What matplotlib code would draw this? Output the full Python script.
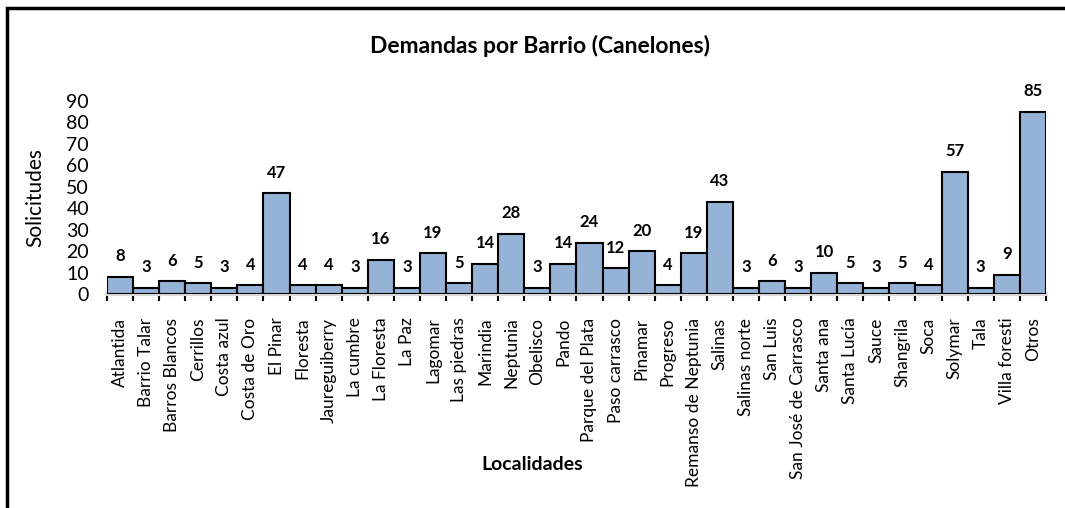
import matplotlib.pyplot as plt
import numpy as np
from matplotlib.patches import Rectangle

plt.rcParams['font.family'] = ['Lato', 'DejaVu Sans']

# data
localidades = ['Atlantida', 'Barrio Talar', 'Barros Blancos', 'Cerrillos', 'Costa azul',
               'Costa de Oro', 'El Pinar', 'Floresta', 'Jaureguiberry', 'La cumbre',
               'La Floresta', 'La Paz', 'Lagomar', 'Las piedras', 'Marindia', 'Neptunia',
               'Obelisco', 'Pando', 'Parque del Plata', 'Paso carrasco', 'Pinamar',
               'Progreso', 'Remanso de Neptunia', 'Salinas', 'Salinas norte', 'San Luis',
               'San José de Carrasco', 'Santa ana', 'Santa Lucía', 'Sauce', 'Shangrila',
               'Soca', 'Solymar', 'Tala', 'Villa foresti', 'Otros']
solicitudes = [8, 3, 6, 5, 3, 4, 47, 4, 4, 3, 16, 3, 19, 5, 14, 28, 3, 14, 24, 12, 20,
               4, 19, 43, 3, 6, 3, 10, 5, 3, 5, 4, 57, 3, 9, 85]
yticks = list(range(0, 100, 10))

fig = plt.figure(figsize=(10.65, 5.08), dpi=100)
ax = fig.add_axes([0.1005, 0.4213, 0.8815, 0.38])

x = np.arange(len(localidades))
ax.bar(x, solicitudes, width=1.0, color='#95B3D7', edgecolor='black', linewidth=1.5, zorder=3)

for xi, v in zip(x, solicitudes):
    ax.annotate(str(v), (xi, v), xytext=(0, 9), textcoords='offset points',
                ha='center', va='bottom', fontsize=12, fontweight='bold')

ax.set_xlim(-0.5, len(localidades) - 0.5)
ax.set_ylim(0, 90)
ax.set_yticks(yticks)
ax.tick_params(axis='y', length=0, labelsize=14, pad=13)
ax.set_xticks(x)
ax.set_xticklabels(localidades, rotation=90, fontsize=12.5)
ax.tick_params(axis='x', which='major', length=0, pad=17)
ax.set_xticks(np.arange(-0.5, len(localidades), 1), minor=True)
ax.tick_params(axis='x', which='minor', length=5, width=1.5, color='black')

for s in ['top', 'right', 'left']:
    ax.spines[s].set_visible(False)
ax.spines['bottom'].set_color('#D9D9D9')
ax.spines['bottom'].set_linewidth(3)
ax.spines['bottom'].set_zorder(2)

ax.set_ylabel('Solicitudes', fontsize=15)
ax.yaxis.set_label_coords(-0.066, 0.5)
fig.text(0.5, 0.085, 'Localidades', ha='center', va='center', fontsize=14, fontweight='bold')
fig.text(0.507, 0.91, 'Demandas por Barrio (Canelones)', ha='center', va='center',
         fontsize=16.5, fontweight='bold')

# chart frame, cropped at right and bottom like the original
fig.patches.append(Rectangle((0.0065, -0.1), 1.2, 1.084, transform=fig.transFigure,
                             fill=False, edgecolor='black', linewidth=2.5))

fig.savefig('out.png', dpi=100)
